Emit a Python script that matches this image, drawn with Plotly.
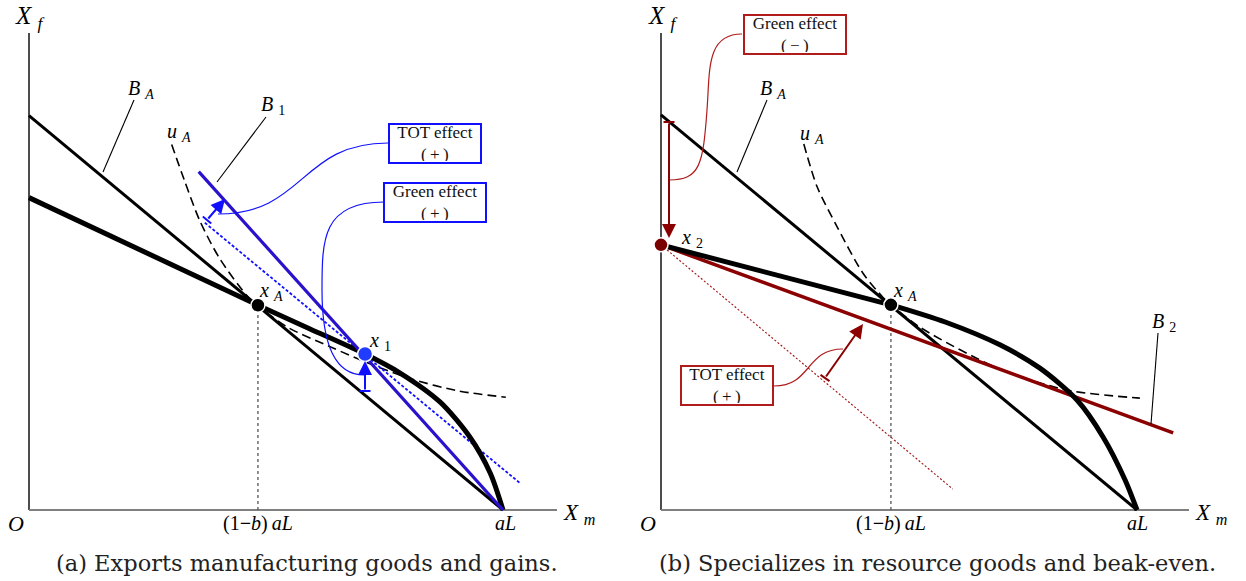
import plotly.graph_objects as go

# ---------------- data (normalized: O = 0, aL = 1) ----------------
# Panel (a): exports manufacturing goods and gains
ba_a_x = [0.0, 1.0]
ba_a_y = [0.832, 0.0]
ppf_a_lin_x = [0.0, 0.483]
ppf_a_lin_y = [0.659, 0.432]
ppf_a_x = [0.483, 0.593, 0.709, 0.783, 0.867, 0.930, 0.973, 1.0]
ppf_a_y = [0.432, 0.382, 0.329, 0.289, 0.228, 0.154, 0.078, 0.0]
ua_a_x = [0.301, 0.328, 0.360, 0.402, 0.459, 0.482, 0.543, 0.634, 0.718, 0.808, 0.907, 1.006]
ua_a_y = [0.771, 0.695, 0.611, 0.531, 0.453, 0.432, 0.387, 0.345, 0.309, 0.276, 0.251, 0.238]
b1_a_x = [0.358, 1.0]
b1_a_y = [0.714, 0.0]
ref_a_x = [0.371, 1.038]
ref_a_y = [0.606, 0.055]
xa_a = [0.483, 0.432]
x1_a = [0.709, 0.329]

# Panel (b): specializes in resource goods and break-even
ba_b_x = [0.0, 1.0]
ba_b_y = [0.830, 0.0]
ppf_b_lin_x = [0.0, 0.483]
ppf_b_lin_y = [0.557, 0.431]
ppf_b_x = [0.483, 0.597, 0.712, 0.796, 0.874, 0.929, 0.975, 1.0]
ppf_b_y = [0.431, 0.395, 0.347, 0.298, 0.231, 0.153, 0.063, 0.0]
ua_b_x = [0.300, 0.328, 0.370, 0.424, 0.466, 0.483, 0.544, 0.712, 0.853, 1.006]
ua_b_y = [0.769, 0.679, 0.595, 0.498, 0.447, 0.431, 0.384, 0.296, 0.252, 0.235]
b2_b_x = [0.0, 1.076]
b2_b_y = [0.557, 0.162]
ref_b_x = [0.0, 0.613]
ref_b_y = [0.557, 0.044]
xa_b = [0.483, 0.431]
x2_b = [0.0, 0.557]

tick_labels = ["<i>O</i>", "(1<b>−</b><i>b</i>)\u2009<i>aL</i>", "<i>aL</i>"]
captions = ["(a) Exports manufacturing goods and gains.",
            "(b) Specializes in resource goods and beak-even."]

# ---------------- layout geometry ----------------
W, H = 1246, 581
OY = 510
OA_X, SA = 29, 474
OB_X, SB = 661, 476
SERIF = "'Times New Roman', 'Liberation Serif', Tinos, serif"
CAPFONT = "'DejaVu Serif', serif"

BLACK = "#000000"
BLUE_LINE = "#2a12cc"
BLUE = "#1010ff"
RED = "#8b0000"
RED_BOX = "#b01c1c"


def pa(px, py):
    return ((px - OA_X) / SA, (OY - py) / SA)


def pb(px, py):
    return ((px - OB_X) / SB, (OY - py) / SB)


fig = go.Figure()


def line(x, y, panel, color, width, dash=None, shape="linear", smoothing=1.0):
    xa, ya = ("x", "y") if panel == "a" else ("x2", "y2")
    ln = dict(color=color, width=width, shape=shape)
    if shape == "spline":
        ln["smoothing"] = smoothing
    if dash:
        ln["dash"] = dash
    fig.add_trace(go.Scatter(x=x, y=y, mode="lines", line=ln, xaxis=xa, yaxis=ya,
                             hoverinfo="skip", showlegend=False))


def point(p, panel, color, size=13):
    xa, ya = ("x", "y") if panel == "a" else ("x2", "y2")
    fig.add_trace(go.Scatter(x=[p[0]], y=[p[1]], mode="markers",
                             marker=dict(color=color, size=size, line=dict(color="white", width=1.5)),
                             xaxis=xa, yaxis=ya, hoverinfo="skip", showlegend=False))


shapes = []
annots = []


def seg(panel, p0, p1, color, width, dash=None, layer="above"):
    conv = pa if panel == "a" else pb
    xr, yr = ("x", "y") if panel == "a" else ("x2", "y2")
    a = conv(*p0)
    b = conv(*p1)
    ln = dict(color=color, width=width)
    if dash:
        ln["dash"] = dash
    shapes.append(dict(type="line", xref=xr, yref=yr, x0=a[0], y0=a[1], x1=b[0], y1=b[1],
                       line=ln, layer=layer))


def path(panel, cmds, color, width):
    conv = pa if panel == "a" else pb
    xr, yr = ("x", "y") if panel == "a" else ("x2", "y2")
    parts = []
    for c, pts in cmds:
        s = c + " " + " ".join("%.5f,%.5f" % conv(*p) for p in pts)
        parts.append(s)
    shapes.append(dict(type="path", xref=xr, yref=yr, path=" ".join(parts),
                       line=dict(color=color, width=width)))


def text(panel, px, py, t, size=18, color=BLACK, family=SERIF):
    conv = pa if panel == "a" else pb
    xr, yr = ("x", "y") if panel == "a" else ("x2", "y2")
    x, y = conv(px, py)
    annots.append(dict(xref=xr, yref=yr, x=x, y=y, text=t, showarrow=False,
                       font=dict(family=family, size=size, color=color),
                       xanchor="center", yanchor="middle"))


def box(panel, px, py, t, color, w, h):
    conv = pa if panel == "a" else pb
    xr, yr = ("x", "y") if panel == "a" else ("x2", "y2")
    x, y = conv(px, py)
    annots.append(dict(xref=xr, yref=yr, x=x, y=y, text=t, showarrow=False,
                       font=dict(family=SERIF, size=17, color="#111"),
                       bordercolor=color, borderwidth=2, borderpad=1, bgcolor="white",
                       width=w, height=h, align="center", valign="middle"))


def arrow(panel, tail, tip, color, width=2):
    conv = pa if panel == "a" else pb
    xr, yr = ("x", "y") if panel == "a" else ("x2", "y2")
    t0 = conv(*tail)
    t1 = conv(*tip)
    annots.append(dict(xref=xr, yref=yr, axref=xr, ayref=yr, x=t1[0], y=t1[1], ax=t0[0], ay=t0[1],
                       text="", showarrow=True, arrowhead=2, arrowsize=1.4, arrowwidth=width,
                       arrowcolor=color, standoff=0))
    dx, dy = tip[0] - tail[0], tip[1] - tail[1]
    n = (dx * dx + dy * dy) ** 0.5
    ux, uy = -dy / n * 5.5, dx / n * 5.5
    seg(panel, (tail[0] - ux, tail[1] - uy), (tail[0] + ux, tail[1] + uy), color, width)


# ---------------- axes (drawn) ----------------
for panel, ox in (("a", OA_X), ("b", OB_X)):
    seg(panel, (ox, 33), (ox, OY), BLACK, 1.4, layer="below")
    seg(panel, (ox, OY), (ox + 528, OY), "#808080", 2, layer="below")

# ---------------- panel (a) ----------------
line([xa_a[0], xa_a[0]], [0, xa_a[1]], "a", "#555", 1.3, dash="3px,3px")
line(ba_a_x, ba_a_y, "a", BLACK, 3)
line(ua_a_x, ua_a_y, "a", BLACK, 1.6, dash="9px,5px", shape="spline", smoothing=0.8)
line(ref_a_x, ref_a_y, "a", BLUE, 1.8, dash="3px,2px")
line(ppf_a_lin_x, ppf_a_lin_y, "a", BLACK, 5)
line(ppf_a_x, ppf_a_y, "a", BLACK, 5, shape="spline", smoothing=0.8)
line(b1_a_x, b1_a_y, "a", BLUE_LINE, 3.2)
point(xa_a, "a", BLACK, 14)
point(x1_a, "a", "#1f3cff", 15)

# ---------------- panel (b) ----------------
line([xa_b[0], xa_b[0]], [0, xa_b[1]], "b", "#555", 1.3, dash="3px,3px")
line(ref_b_x, ref_b_y, "b", "#a01010", 1.1, dash="2px,2px")
line(ba_b_x, ba_b_y, "b", BLACK, 3)
line(ua_b_x, ua_b_y, "b", BLACK, 1.6, dash="9px,5px", shape="spline", smoothing=0.8)
line(b2_b_x, b2_b_y, "b", RED, 3.5)
line(ppf_b_lin_x, ppf_b_lin_y, "b", BLACK, 5)
line(ppf_b_x, ppf_b_y, "b", BLACK, 5, shape="spline", smoothing=0.8)
point(xa_b, "b", BLACK, 14)
point(x2_b, "b", "#7a0000", 14)

# ---------------- annotations (a) ----------------
seg("a", (134, 100), (103, 172), BLACK, 1.1)
seg("a", (266, 117), (217, 182), BLACK, 1.1)
arrow("a", (207, 220), (225, 199), BLUE)
arrow("a", (365, 391), (365, 361), BLUE)
path("a", [("M", [(388, 143)]), ("C", [(300, 143), (305, 214), (218, 214)])], BLUE, 1.2)
path("a", [("M", [(384, 202)]), ("C", [(322, 202), (322, 240), (322, 290)]),
           ("C", [(322, 355), (340, 375), (364, 375)])], BLUE, 1.2)
box("a", 434.5, 143, "TOT effect<br>(\u2009+\u2009)", BLUE, 88, 35)
box("a", 434.5, 202, "Green effect<br>(\u2009+\u2009)", BLUE, 98, 35)

text("a", 30, 17, "<i>X</i> <sub><i>f</i></sub>", 25)
text("a", 16, 523, "<i>O</i>", 22)
text("a", 579, 514, "<i>X</i> <sub><i>m</i></sub>", 23)
text("a", 258, 523, tick_labels[1], 20)
text("a", 505, 523, tick_labels[2], 20)
text("a", 141, 89, "<i>B</i> <sub><i>A</i></sub>", 20)
text("a", 179, 132, "<i>u</i> <sub><i>A</i></sub>", 20)
text("a", 273, 105, "<i>B</i> <sub>1</sub>", 20)
text("a", 271, 291, "<i>x</i> <sub><i>A</i></sub>", 20)
text("a", 380, 341, "<i>x</i> <sub>1</sub>", 20)
text("a", 307, 563, captions[0], 22.5, "#222", CAPFONT)

# ---------------- annotations (b) ----------------
seg("b", (767, 100), (737, 172), BLACK, 1.1)
seg("b", (1158, 333), (1151, 424), BLACK, 1.1)
arrow("b", (669, 122), (669, 238), RED)
arrow("b", (825, 378), (863, 324), RED)
path("b", [("M", [(742, 34)]), ("C", [(706, 34), (710, 70), (707, 110)]),
           ("C", [(703, 165), (700, 180), (669, 180)])], RED_BOX, 1.2)
path("b", [("M", [(774, 386)]), ("C", [(812, 386), (805, 349), (843, 349)])], RED_BOX, 1.2)
box("b", 794.5, 34, "Green effect<br>(\u2009−\u2009)", RED_BOX, 98, 35)
box("b", 727, 385.5, "TOT effect<br>(\u2009+\u2009)", RED_BOX, 88, 35)

text("b", 663, 17, "<i>X</i> <sub><i>f</i></sub>", 25)
text("b", 648, 523, "<i>O</i>", 22)
text("b", 1211, 514, "<i>X</i> <sub><i>m</i></sub>", 23)
text("b", 891, 523, tick_labels[1], 20)
text("b", 1137, 523, tick_labels[2], 20)
text("b", 773, 89, "<i>B</i> <sub><i>A</i></sub>", 20)
text("b", 812, 134, "<i>u</i> <sub><i>A</i></sub>", 20)
text("b", 905, 291, "<i>x</i> <sub><i>A</i></sub>", 20)
text("b", 692, 238, "<i>x</i> <sub>2</sub>", 20)
text("b", 1164, 322, "<i>B</i> <sub>2</sub>", 20)
text("b", 937, 563, captions[1], 22.5, "#222", CAPFONT)

ax_common = dict(visible=False, showgrid=False, zeroline=False, fixedrange=True)
fig.update_layout(
    width=W, height=H, margin=dict(l=0, r=0, t=0, b=0),
    paper_bgcolor="white", plot_bgcolor="white", showlegend=False,
    font=dict(family=SERIF),
    xaxis=dict(domain=[0, 0.5], range=[(0 - OA_X) / SA, (W / 2 - OA_X) / SA], **ax_common),
    yaxis=dict(domain=[0, 1], range=[(OY - H) / SA, OY / SA], **ax_common),
    xaxis2=dict(domain=[0.5, 1], range=[(W / 2 - OB_X) / SB, (W - OB_X) / SB], **ax_common),
    yaxis2=dict(domain=[0, 1], range=[(OY - H) / SB, OY / SB], anchor="x2", **ax_common),
    shapes=shapes, annotations=annots,
)
fig.write_html("out.html")
